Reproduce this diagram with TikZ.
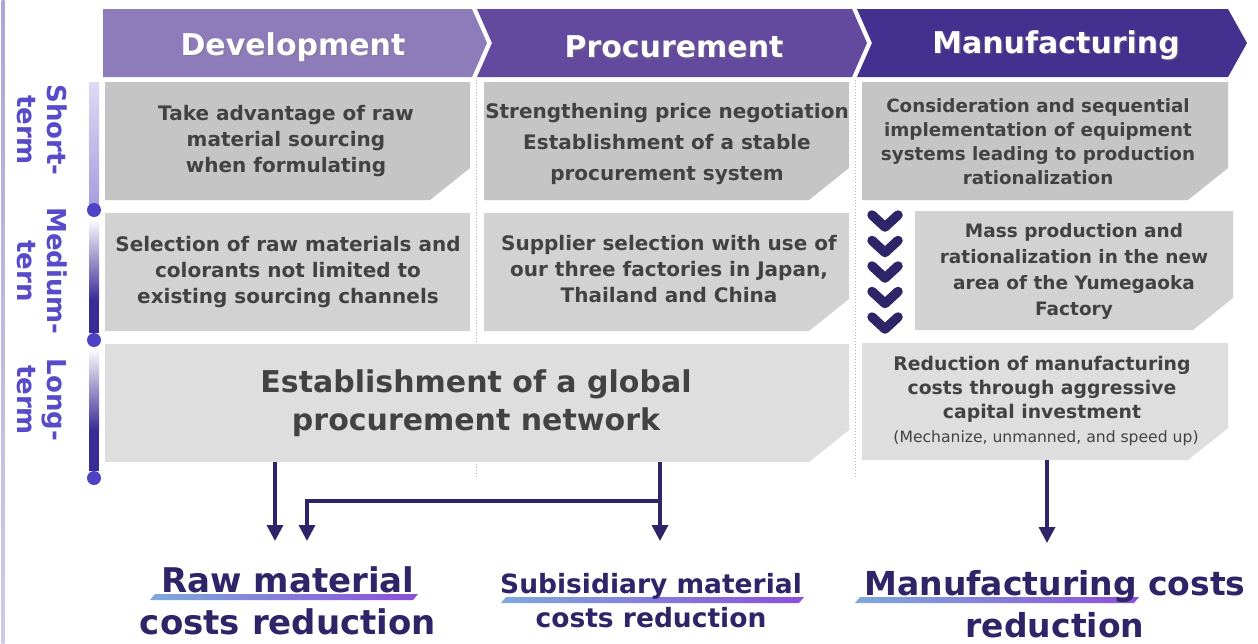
\documentclass[tikz,border=0pt]{standalone}
\usepackage{fontspec}
\setmainfont{DejaVu Sans}
\usetikzlibrary{arrows.meta,calc}

\definecolor{devc}{RGB}{141,124,185}
\definecolor{proc}{RGB}{99,74,158}
\definecolor{manc}{RGB}{68,48,143}
\definecolor{navy}{RGB}{46,36,104}
\definecolor{termc}{RGB}{88,74,200}
\definecolor{boxtxt}{RGB}{66,66,66}
\definecolor{rowA}{RGB}{197,197,197}
\definecolor{rowB}{RGB}{210,210,210}
\definecolor{rowC}{RGB}{222,222,222}
\definecolor{dotc}{RGB}{80,66,196}
\definecolor{barlight}{RGB}{222,218,244}
\definecolor{barmid}{RGB}{168,158,224}
\definecolor{bardark}{RGB}{58,44,150}
\definecolor{ulA}{RGB}{126,170,218}
\definecolor{ulB}{RGB}{140,78,220}
\definecolor{edgec}{RGB}{176,165,218}

% grey box with its lower right corner cut off: fill, x1, y1, x2, y2
\newcommand\cutbox[5]{%
  \fill[#1] (#2,#3) -- (#4,#3) -- (#4,{#5-32}) -- ({#4-40},#5) -- (#2,#5) -- cycle;}
\newcommand\fs[2]{\fontsize{#1}{#2}\selectfont}

\tikzset{
  hdrtext/.style={text=white, font=\bfseries\fs{30}{34}, inner sep=0},
  hdrshadow/.style={text=black!55, opacity=0.45, font=\bfseries\fs{30}{34}, inner sep=0},
  boxtext/.style={text=boxtxt, align=center, inner sep=0},
  termtext/.style={text=termc, align=center, rotate=-90, font=\bfseries\fs{26}{30}, inner sep=0},
  goal/.style={text=navy, align=center, inner sep=0},
  arr/.style={draw=navy, line width=3.4pt, -{Triangle[width=16pt,length=16pt]}},
  seq/.style={draw=navy, line width=9.5pt, line cap=round, line join=round},
  sep/.style={draw=black!30, line width=1pt, dotted},
  tdot/.style={circle, fill=dotc, minimum size=14pt, inner sep=0},
}

\begin{document}
\begin{tikzpicture}[x=1pt,y=-1pt]
\useasboundingbox (0,0) rectangle (1258,643);
\fill[white] (0,0) rectangle (1258,643);

% left edge rule
\shade[top color=edgec, bottom color=edgec!60] (1.5,0) rectangle (4.5,643);

% stage headers
\fill[devc] (103,9) -- (472,9) -- (487,43) -- (472,77) -- (103,77) -- cycle;
\fill[proc] (477,9) -- (852,9) -- (867,43) -- (852,77) -- (477,77) -- (492,43) -- cycle;
\fill[manc] (857,9) -- (1228,9) -- (1247,43) -- (1228,77) -- (857,77) -- (872,43) -- cycle;
\node[hdrshadow] (hdevs) at (294.5,48.5) {Development};
\node[hdrtext] (hdev) at (293,47) {Development};
\node[hdrshadow] (hpros) at (675.5,48.5) {Procurement};
\node[hdrtext] (hpro) at (674,47) {Procurement};
\node[hdrshadow] (hmans) at (1057.5,46.5) {Manufacturing};
\node[hdrtext] (hman) at (1056,45) {Manufacturing};

% column separators
\draw[sep] (476.5,80) -- (476.5,478);
\draw[sep] (855.5,80) -- (855.5,478);

% time axis
\shade[top color=barlight, bottom color=barmid] (89,82) rectangle (99,204);
\shade[top color=white, bottom color=bardark] (89,218) rectangle (99,300);
\fill[bardark] (89,299.5) rectangle (99,333);
\shade[top color=white, bottom color=bardark] (89,348) rectangle (99,430);
\fill[bardark] (89,429.5) rectangle (99,471);
\node[tdot] (d1) at (94,210) {};
\node[tdot] (d2) at (94,340) {};
\node[tdot] (d3) at (94,478) {};

\node[termtext] (tshort) at (42,130) {Short-\\term};
\node[termtext] (tmed) at (42,271) {Medium-\\tern};
\node[termtext] (tlong) at (42,400) {Long-\\term};

% short-term row
\cutbox{rowA}{105}{82}{470}{200}
\cutbox{rowA}{484}{82}{849}{200}
\cutbox{rowA}{862}{82}{1228}{200}
\node[boxtext, font=\bfseries\fs{20}{26}] (s1) at (286,141)
  {Take advantage of raw\\material sourcing\\when formulating};
\node[boxtext, font=\bfseries\fs{20}{31}] (s2) at (667,144)
  {Strengthening price negotiation\\Establishment of a stable\\procurement system};
\node[boxtext, font=\bfseries\fs{18.3}{24}] (s3) at (1038,142)
  {Consideration and sequential\\implementation of equipment\\systems leading to production\\rationalization};

% medium-term row
\fill[rowB] (105,213) rectangle (470,331);
\cutbox{rowB}{484}{213}{849}{331}
\cutbox{rowB}{915}{211}{1233}{330}
\node[boxtext, font=\bfseries\fs{20}{26}] (m1) at (288,272)
  {Selection of raw materials and\\colorants not limited to\\existing sourcing channels};
\node[boxtext, font=\bfseries\fs{20}{26}] (m2) at (669,269)
  {Supplier selection with use of\\our three factories in Japan,\\Thailand and China};
\node[boxtext, font=\bfseries\fs{18.5}{26}] (m3) at (1074,271)
  {Mass production and\\rationalization in the new\\area of the Yumegaoka\\Factory};
\foreach \i in {0,...,4}
  \draw[seq] (872,{215+25.5*\i}) -- (885,{227+25.5*\i}) -- (898,{215+25.5*\i});

% long-term row
\cutbox{rowC}{105}{344}{849}{462}
\cutbox{rowC}{862}{343}{1228}{460}
\node[boxtext, font=\bfseries\fs{30}{38}] (glob) at (476,403)
  {Establishment of a global\\procurement network};
\node[boxtext, font=\bfseries\fs{18.8}{24}] (l3) at (1042,389)
  {Reduction of manufacturing\\costs through aggressive\\capital investment};
\node[boxtext, font=\fs{15.6}{18}] (l3b) at (1046,438)
  {(Mechanize, unmanned, and speed up)};

% anchors of the long-term boxes
\coordinate (globA) at (275,462);
\coordinate (globB) at (660,462);
\coordinate (manuA) at (1047,460);
\coordinate (split) at (660,501);

% cost reduction targets
\shade[left color=ulA, right color=ulB] (155,594) -- (418,594) -- (413,600) -- (150,600) -- cycle;
\shade[left color=ulA, right color=ulB] (506,597) -- (804,597) -- (799,603) -- (501,603) -- cycle;
\shade[left color=ulA, right color=ulB] (860,597) -- (1139,597) -- (1134,603) -- (855,603) -- cycle;
\node[goal, font=\bfseries\fs{34}{42}] (raw) at (288,601)
  {Raw material\\costs reduction};
\node[goal, font=\bfseries\fs{26.5}{34}] (sub) at (651,601)
  {Subisidiary material\\costs reduction};
\node[goal, font=\bfseries\fs{33}{42}] (man) at (1055,604)
  {Manufacturing costs\\reduction};

\coordinate (rawin1) at (275,541);
\coordinate (rawin2) at (307,541);
\coordinate (subin) at (660,541);
\coordinate (manin) at (1047,543);

% connectors
\draw[arr] (globA) -- (rawin1);
\draw[arr] (globB) -- (subin);
\draw[arr] (split) -| (rawin2);
\draw[arr] (manuA) -- (manin);
\end{tikzpicture}
\end{document}
